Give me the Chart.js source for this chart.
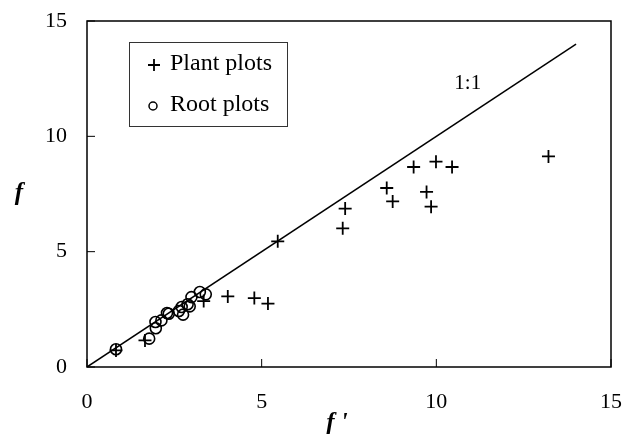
<!DOCTYPE html>
<html>
<head>
<meta charset="utf-8">
<script src="https://cdn.jsdelivr.net/npm/chart.js@4"></script>
<style>
  html, body { margin: 0; padding: 0; background: #fff; }
  #wrap { width: 625px; height: 434px; }
</style>
</head>
<body>
<div id="wrap"><canvas id="chart" width="625" height="434"></canvas></div>
<script>
const plantX = [0.83, 1.66, 3.34, 4.03, 4.79, 5.18, 5.46, 7.32, 7.39, 8.58, 8.75, 9.35, 9.99, 10.45, 9.72, 9.85, 13.21];
const plantY = [0.72, 1.15, 2.86, 3.06, 2.99, 2.75, 5.45, 6.01, 6.87, 7.76, 7.18, 8.67, 8.90, 8.67, 7.59, 6.95, 9.13];
const rootX = [0.83, 1.78, 1.97, 1.96, 2.13, 2.34, 2.29, 2.63, 2.71, 2.75, 2.88, 2.94, 2.99, 3.23, 3.40];
const rootY = [0.77, 1.23, 1.68, 1.95, 2.02, 2.31, 2.34, 2.43, 2.60, 2.27, 2.72, 2.63, 3.03, 3.25, 3.15];
const oneToOneX = [0, 14];
const oneToOneY = [0, 14];
const axisTicks = [0, 5, 10, 15];

const serif = '"Liberation Serif", "Times New Roman", serif';

function toPoints(xs, ys) {
  return xs.map((x, i) => ({ x: x, y: ys[i] }));
}

// frame, inward ticks, legend box, 1:1 label, axis titles
const decorations = {
  id: 'decorations',
  afterDraw(chart) {
    const ctx = chart.ctx;
    const area = chart.chartArea;
    const xs = chart.scales.x;
    const ys = chart.scales.y;
    ctx.save();
    ctx.strokeStyle = '#000';
    ctx.lineWidth = 1.5;
    ctx.strokeRect(area.left, area.top, area.right - area.left, area.bottom - area.top);

    ctx.lineWidth = 1;
    axisTicks.forEach(v => {
      const px = xs.getPixelForValue(v);
      ctx.beginPath();
      ctx.moveTo(px, area.bottom);
      ctx.lineTo(px, area.bottom - 8);
      ctx.stroke();
      const py = ys.getPixelForValue(v);
      ctx.beginPath();
      ctx.moveTo(area.left, py);
      ctx.lineTo(area.left + 8, py);
      ctx.stroke();
    });

    // legend
    const lx = area.left + 42, ly = area.top + 21;
    ctx.lineWidth = 1;
    ctx.strokeStyle = '#333';
    ctx.fillStyle = '#fff';
    ctx.fillRect(lx, ly, 158, 84);
    ctx.strokeRect(lx + 0.5, ly + 0.5, 158, 84);
    ctx.strokeStyle = '#000';
    ctx.fillStyle = '#000';
    ctx.font = '24px ' + serif;
    ctx.textBaseline = 'middle';
    ctx.textAlign = 'left';
    const ds = chart.data.datasets;
    ctx.lineWidth = 1.8;
    ctx.beginPath();
    ctx.moveTo(lx + 19, ly + 23); ctx.lineTo(lx + 31, ly + 23);
    ctx.moveTo(lx + 25, ly + 17); ctx.lineTo(lx + 25, ly + 29);
    ctx.stroke();
    ctx.fillText(ds[0].label, lx + 41, ly + 22);
    ctx.lineWidth = 1.5;
    ctx.beginPath();
    ctx.arc(lx + 24, ly + 64, 4, 0, Math.PI * 2);
    ctx.stroke();
    ctx.fillText(ds[1].label, lx + 41, ly + 63);

    // 1:1 label
    ctx.font = '21px ' + serif;
    ctx.textAlign = 'center';
    ctx.fillText('1:1', xs.getPixelForValue(10.9), ys.getPixelForValue(12.3));

    // axis titles
    ctx.font = 'italic 700 25px "Liberation Serif", "DejaVu Serif", serif';
    ctx.fillText('f', 19, 194);
    ctx.fillText("f '", 337, 424);
    ctx.restore();
  }
};

new Chart(document.getElementById('chart'), {
  type: 'scatter',
  data: {
    datasets: [
      {
        label: 'Plant plots',
        data: toPoints(plantX, plantY),
        pointStyle: 'cross',
        pointRadius: 6.5,
        pointHoverRadius: 6.5,
        borderColor: '#000',
        borderWidth: 1.8
      },
      {
        label: 'Root plots',
        data: toPoints(rootX, rootY),
        pointStyle: 'circle',
        pointRadius: 5.5,
        pointHoverRadius: 5.5,
        borderColor: '#000',
        backgroundColor: 'rgba(0,0,0,0)',
        borderWidth: 1.6
      },
      {
        label: '1:1',
        data: toPoints(oneToOneX, oneToOneY),
        showLine: true,
        pointRadius: 0,
        borderColor: '#000',
        borderWidth: 1.5
      }
    ]
  },
  options: {
    responsive: false,
    animation: false,
    layout: { padding: { top: 21, right: 14, left: 0, bottom: 0 } },
    plugins: { legend: { display: false }, tooltip: { enabled: false } },
    scales: {
      x: {
        min: 0, max: 15,
        afterFit(scale) {
          scale.height = 67;
          scale.paddingLeft = 0;
          scale.paddingRight = 0;
        },
        ticks: { stepSize: 5, color: '#000', padding: 22, font: { family: serif, size: 22 } },
        grid: { display: true, drawOnChartArea: false, drawTicks: false },
        border: { display: false }
      },
      y: {
        min: 0, max: 15,
        afterFit(scale) {
          scale.width = 87;
          scale.paddingTop = 0;
          scale.paddingBottom = 0;
        },
        ticks: { stepSize: 5, color: '#000', padding: 20, font: { family: serif, size: 22 } },
        grid: { display: true, drawOnChartArea: false, drawTicks: false },
        border: { display: false }
      }
    }
  },
  plugins: [decorations]
});
</script>
</body>
</html>
